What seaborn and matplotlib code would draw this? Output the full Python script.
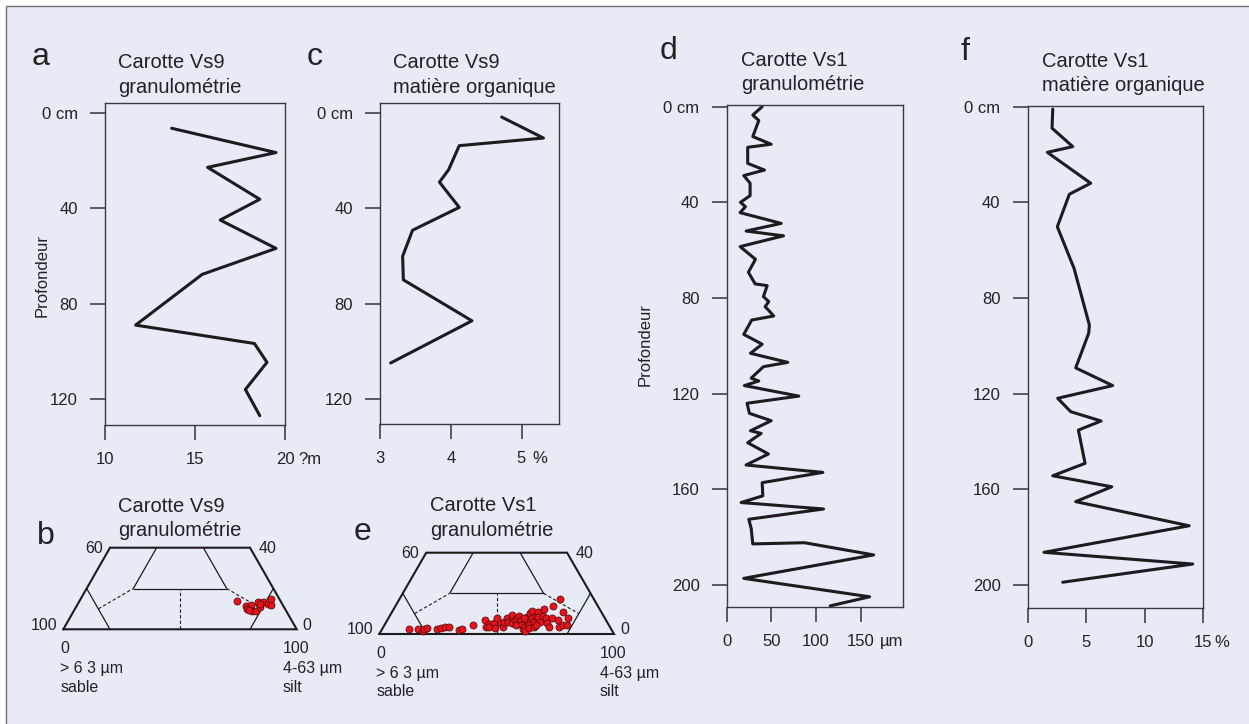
import numpy as np
import matplotlib
matplotlib.use('Agg')
import matplotlib.pyplot as plt
from matplotlib.patches import Rectangle
import seaborn as sns

# --- profils (profondeur en cm) ---
vs9_gran_depth = [6.4, 16.6, 22.8, 36.2, 44.9, 56.8, 67.7, 89.0, 96.7, 104.6, 116.0, 127.0]
vs9_gran_um = [13.7, 19.5, 15.7, 18.6, 16.4, 19.5, 15.4, 11.7, 18.3, 19.0, 17.8, 18.6]

vs9_mo_depth = [1.7, 10.5, 13.7, 23.8, 29.0, 39.6, 49.2, 60.1, 70.0, 87.2, 104.9]
vs9_mo_pct = [4.72, 5.31, 4.12, 3.97, 3.84, 4.12, 3.46, 3.32, 3.33, 4.30, 3.15]

vs1_gran_depth = [0, 3.5, 5.8, 12.5, 15.7, 17, 23.7, 26.5, 28.8, 32, 37.2, 40, 41.8, 44.3,
                  48.8, 52, 54, 58.5, 63.8, 69.2, 74.1, 74.8, 79.4, 81.5, 83.6, 87.5, 89.2,
                  95.2, 99.3, 103.1, 106.9, 108.7, 113.5, 114.7, 116.6, 121, 124, 128.2,
                  131.3, 135.5, 136.6, 140.5, 145.2, 149.8, 152.9, 157.2, 162.7, 165.5,
                  168.2, 172.5, 176.3, 182.8, 182.3, 187.4, 197.2, 204.9, 208.7]
vs1_gran_um = [39.7, 29.2, 35.9, 29.2, 49.8, 23.5, 23.5, 42.3, 19.1, 26.2, 26.2, 15.4, 21.0,
               15.0, 61.0, 21.7, 63.6, 15.0, 32.2, 24.3, 31.8, 45.3, 41.1, 47.1, 43.0, 52.7,
               28.0, 19.1, 39.7, 26.6, 68.4, 41.1, 27.4, 35.9, 19.8, 80.7, 22.8, 25.4, 49.8,
               26.6, 38.6, 23.5, 46.7, 21.7, 107.6, 39.7, 40.4, 16.1, 108.4, 24.7, 27.4,
               29.2, 87.1, 164.5, 19.1, 160.0, 115.9]

vs1_mo_depth = [1.0, 9.0, 16.7, 19.1, 32.0, 36.6, 50.2, 67.6, 91.3, 94.7, 109.2, 116.6, 121.9,
                127.5, 131.4, 135.2, 149.1, 154.3, 158.9, 165.1, 175.2, 186.3, 191.2, 198.8]
vs1_mo_pct = [2.14, 2.08, 3.85, 1.68, 5.38, 3.56, 2.53, 3.96, 5.27, 5.21, 4.1, 7.26, 2.56,
              3.67, 6.27, 4.33, 4.9, 2.14, 7.18, 4.1, 13.79, 1.39, 14.1, 2.99]

# --- granulométrie ternaire (silt %, argile %) ---
vs9_silt = [67.5, 72.6, 74.4, 73.9, 76.3, 78.1, 78.9, 76.8, 78.9, 81.6, 83.0, 81.7, 74.9, 78.1]
vs9_clay = [13.9, 11.4, 11.7, 10.0, 8.9, 8.9, 10.7, 13.5, 13.5, 12.4, 11.7, 14.8, 9.7, 12.4]

vs1_silt = [11.6, 15.4, 17.7, 17.7, 18.8, 23.1, 24.7, 26.3, 28.1, 33.1, 33.8, 37.6, 41.4, 43.8,
            44.5, 45.2, 46.3, 47.9, 46.4, 49.1, 50.9, 50.2, 50.6, 52.1, 51.8, 53.8, 54.3, 56.0,
            54.9, 55.2, 56.8, 58.5, 60.2, 60.4, 61.3, 58.5, 60.2, 61.7, 62.5, 59.0, 61.0, 59.6,
            63.0, 64.1, 62.4, 62.4, 63.6, 65.6, 65.2, 64.2, 67.2, 68.5, 70.6, 69.6, 67.2, 72.5,
            74.9, 68.5, 72.8, 76.1, 77.9, 76.7, 57.9, 64.6]
vs1_clay = [2.3, 2.3, 1.6, 2.6, 2.8, 2.6, 2.8, 3.3, 3.4, 2.0, 2.6, 4.4, 6.9, 3.3,
            4.8, 3.3, 5.2, 2.8, 7.7, 5.2, 3.3, 5.7, 8.0, 5.7, 9.2, 5.2, 6.9, 4.4,
            7.7, 8.9, 6.9, 4.4, 2.3, 3.3, 1.5, 8.5, 5.9, 4.4, 2.8, 10.5, 7.7, 11.3,
            5.9, 3.6, 8.9, 10.7, 8.4, 5.9, 8.9, 12.3, 7.7, 5.6, 3.6, 7.7, 13.8, 6.9,
            3.6, 17.1, 10.7, 4.6, 4.4, 7.7, 7.7, 4.4]

W, H = 1249, 724
BG = '#e8eaf6'
INK = '#1c1c1c'
TXT = '#222222'

sns.set_style('ticks')
plt.rcParams['font.family'] = ['Liberation Sans', 'DejaVu Sans']

fig = plt.figure(figsize=(W / 100, H / 100), dpi=100, facecolor='white')
fig.patches.append(Rectangle((6 / W, -0.1), 1.2, 1.1 - 6.5 / H, transform=fig.transFigure,
                             facecolor=BG, edgecolor='#707070', lw=1.0, zorder=-10))


def box(x0, y0, x1, y1):
    return [x0 / W, 1 - y1 / H, (x1 - x0) / W, (y1 - y0) / H]


def ftxt(x, y, s, **kw):
    kw.setdefault('color', TXT)
    fig.text(x / W, 1 - y / H, s, **kw)


TL, TP = 11, 8.5


def profil(rect, x, y, xlim, ylim, xticks, xlabels, yticks, ylabels, unit, dx):
    ax = fig.add_axes(rect)
    ax.set_facecolor('none')
    sns.lineplot(x=x, y=y, sort=False, estimator=None, color=INK, lw=2.2, ax=ax)
    ax.set_xlim(xlim)
    ax.set_ylim(ylim)
    ax.set_xticks(xticks, xlabels)
    ax.set_yticks(yticks, ylabels)
    ax.set_xlabel('')
    ax.set_ylabel('')
    ax.tick_params(length=TL, width=1.1, pad=TP, labelsize=12, color='#333333', labelcolor=TXT)
    for s in ax.spines.values():
        s.set_color('#3a3a3a')
        s.set_linewidth(1.0)
    ax.annotate(unit, xy=(xticks[-1], 0), xycoords=ax.get_xaxis_transform(),
                xytext=(dx, -(TL + TP)), textcoords='offset points',
                ha='left', va='top', fontsize=12, color=TXT, annotation_clip=False)
    return ax


profil(box(105, 103, 285, 425), vs9_gran_um, vs9_gran_depth, (10, 20), (130.9, -4.2),
       [10, 15, 20], ['10', '15', '20'], [0, 40, 80, 120], ['0 cm', '40', '80', '120'],
       '?m', 9.5)
profil(box(380, 103, 559, 424), vs9_mo_pct, vs9_mo_depth, (3, 5.53), (130.5, -4.2),
       [3, 4, 5], ['3', '4', '5'], [0, 40, 80, 120], ['0 cm', '40', '80', '120'],
       '%', 7.5)
profil(box(726.7, 105, 902.7, 607.3), vs1_gran_um, vs1_gran_depth, (0, 197), (209.3, -0.7),
       [0, 50, 100, 150], ['0', '50', '100', '150'], [0, 40, 80, 120, 160, 200],
       ['0 cm', '40', '80', '120', '160', '200'], 'µm', 13.5)
profil(box(1027.7, 105.7, 1203.3, 608.3), vs1_mo_pct, vs1_mo_depth, (0, 15), (209.7, -0.4),
       [0, 5, 10, 15], ['0', '5', '10', '15'], [0, 40, 80, 120, 160, 200],
       ['0 cm', '40', '80', '120', '160', '200'], '%', 8)

# --- diagrammes ternaires tronqués ---
R3 = np.sqrt(3) / 2


def tern(silt, clay):
    silt = np.asarray(silt, float)
    clay = np.asarray(clay, float)
    return silt + clay / 2, clay * R3


def seg(ax, p, q, **kw):
    x, y = tern([p[0], q[0]], [p[1], q[1]])
    ax.plot(x, y, clip_on=False, solid_capstyle='butt', **kw)


def ternaire(rect, silt, clay):
    ax = fig.add_axes(rect)
    ax.set_xlim(0, 100)
    ax.set_ylim(0, 40 * R3)
    ax.axis('off')
    outer = dict(color=INK, lw=1.5)
    inner = dict(color=INK, lw=0.9)
    dash = dict(color=INK, lw=0.8, ls=(0, (3, 2)))
    ox, oy = tern([0, 100, 60, 0, 0], [0, 0, 40, 40, 0])
    ax.plot(ox, oy, clip_on=False, solid_joinstyle='miter', **outer)
    seg(ax, (20, 20), (20, 40), **inner)
    seg(ax, (20, 20), (60, 20), **inner)
    seg(ax, (60, 20), (40, 40), **inner)
    seg(ax, (0, 20), (20, 0), **inner)
    seg(ax, (80, 20), (80, 0), **inner)
    seg(ax, (10, 10), (20, 20), **dash)
    seg(ax, (50, 0), (40, 20), **dash)
    seg(ax, (60, 20), (80, 10), **dash)
    px_, py_ = tern(silt, clay)
    sns.scatterplot(x=px_, y=py_, s=26, color='#e3141c', edgecolor='#4a0808',
                    linewidth=0.5, clip_on=False, zorder=5, ax=ax)
    return ax


ternaire(box(63.3, 547.7, 296.7, 629.3), vs9_silt, vs9_clay)
ternaire(box(379.3, 552.7, 614, 634), vs1_silt, vs1_clay)

# labels des ternaires
for (x0, y0, x1, y1) in [(63.3, 547.7, 296.7, 629.3), (379.3, 552.7, 614, 634)]:
    tx0 = x0 + (x1 - x0) * 0.2
    tx1 = x0 + (x1 - x0) * 0.8
    ftxt(tx0 - 7, y0 + 1, '60', ha='right', va='center', fontsize=11.5)
    ftxt(tx1 + 9, y0 + 1, '40', ha='left', va='center', fontsize=11.5)
    ftxt(x0 - 6, y1 - 4, '100', ha='right', va='center', fontsize=11.5)
    ftxt(x1 + 6, y1 - 4, '0', ha='left', va='center', fontsize=11.5)
    ftxt(x0 - 3, y1 + 19.5, '0', ha='left', va='center', fontsize=11.5)
    ftxt(x1 - 14, y1 + 19.5, '100', ha='left', va='center', fontsize=11.5)
    ftxt(x0 - 3, y1 + 39.5, '> 6 3 µm', ha='left', va='center', fontsize=11.5)
    ftxt(x0 - 3, y1 + 58, 'sable', ha='left', va='center', fontsize=11.5)
    ftxt(x1 - 14, y1 + 39.5, '4-63 µm', ha='left', va='center', fontsize=11.5)
    ftxt(x1 - 14, y1 + 58, 'silt', ha='left', va='center', fontsize=11.5)

# titres
titres = [(118, 68.3, 'Carotte Vs9', 'granulométrie'),
          (393.3, 68.3, 'Carotte Vs9', 'matière organique'),
          (740.7, 66, 'Carotte Vs1', 'granulométrie'),
          (1041.7, 66.7, 'Carotte Vs1', 'matière organique'),
          (118, 511.7, 'Carotte Vs9', 'granulométrie'),
          (430, 511, 'Carotte Vs1', 'granulométrie')]
for x, y, l1, l2 in titres:
    ftxt(x, y, l1, ha='left', va='baseline', fontsize=14.5)
    ftxt(x, y + 24.5, l2, ha='left', va='baseline', fontsize=14.5)

# lettres des panneaux
for x, y, s in [(31.7, 65, 'a'), (306.7, 65, 'c'), (659.3, 59.3, 'd'), (960.7, 60, 'f'),
                (36.7, 544, 'b'), (353.3, 540, 'e')]:
    ftxt(x, y, s, ha='left', va='baseline', fontsize=23)

ftxt(41.7, 275.5, 'Profondeur', rotation=90, ha='center', va='center', fontsize=12)
ftxt(645, 345, 'Profondeur', rotation=90, ha='center', va='center', fontsize=12)

fig.savefig('out.png', dpi=100, facecolor=fig.get_facecolor())
